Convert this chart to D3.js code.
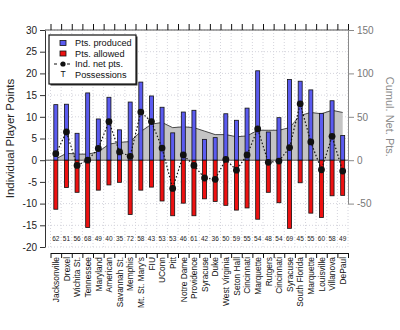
<!DOCTYPE html>
<html>
<head>
<meta charset="utf-8">
<script src="https://cdn.jsdelivr.net/npm/d3@7"></script>
<style>
  body { margin: 0; background: #fff; }
  svg { font-family: "Liberation Sans", Arial, sans-serif; }
</style>
</head>
<body>
<div id="chart-area"></div>
<script>
const teams = ["Jacksonville", "Drexel", "Wichita St.", "Tennessee", "Maryland", "American", "Savannah St.",
  "Memphis", "Mt. St. Mary's", "FIU", "UConn", "Pitt", "Notre Dame", "Providence", "Syracuse", "Duke",
  "West Virginia", "Seton Hall", "Cincinnati", "Marquette", "Rutgers", "Cincinnati", "Syracuse",
  "South Florida", "Marquette", "Louisville", "Villanova", "DePaul"]
const produced = [12.8, 12.9, 6.2, 15.5, 9.5, 14.5, 7.0, 13.4, 18.0, 14.8, 12.2, 6.3, 11.1, 11.5,
  4.8, 5.2, 10.7, 9.2, 12.0, 20.6, 6.5, 9.8, 18.6, 18.2, 16.2, 10.8, 13.7, 5.7]
const allowed = [11.3, 6.3, 7.4, 15.5, 6.9, 5.7, 5.1, 12.5, 6.9, 6.2, 9.4, 12.8, 9.9, 12.8,
  8.9, 9.5, 10.4, 11.5, 11.0, 13.6, 7.4, 9.8, 15.7, 5.2, 12.2, 13.2, 8.2, 8.1]
const netPts = [1.5, 6.5, -1.2, 0, 2.7, 8.9, 1.9, 0.9, 11.1, 8.9, 2.8, -6.5, 1.2, -1.2,
  -4.1, -4.4, 0.2, -2.3, 1.2, 7.2, -0.5, -0.2, 2.9, 13.0, 4.2, -2.2, 5.5, -2.5]
const cumulNet = [1.5, 8, 7, 7, 9.5, 18.5, 20.5, 21.5, 33, 41.5, 43.5, 37.5, 38.5, 37.5,
  33.5, 29.5, 29.5, 27, 28, 34.5, 34.5, 34.5, 37.5, 51.5, 55, 53.5, 57.5, 55]
const possessions = [62, 51, 56, 68, 49, 40, 35, 72, 58, 43, 53, 53, 46, 61,
  42, 36, 50, 59, 55, 54, 48, 54, 69, 45, 55, 60, 58, 49]
const leftTicks = [-20, -15, -10, -5, 0, 5, 10, 15, 20, 25, 30]
const rightTicks = [-50, 0, 50, 100, 150]

const W = 400, H = 330
const PLOT = { left: 45, right: 348, top: 30, bottom: 247 }
const BLUE = "#5b5bf0", RED = "#ee1111", GREY_AXIS = "#8a8a8a"

const svg = d3.select("#chart-area").append("svg")
  .attr("width", W).attr("height", H)

const n = teams.length
const x = d3.scaleLinear().domain([0, n]).range([50.5, 348])
const y = d3.scaleLinear().domain([-20, 30]).range([PLOT.bottom, PLOT.top])
const yR = d3.scaleLinear().domain([-100, 150]).range([PLOT.bottom, PLOT.top]) // right = left * 5
const idx = d3.range(n)

// grid
const grid = svg.append("g").attr("stroke", "#d4d4dc").attr("stroke-dasharray", "1,2").attr("stroke-width", 1)

// cumulative area
const area = d3.area()
  .x(i => x(i + 0.5))
  .y0(yR(0))
  .y1(i => yR(cumulNet[i]))
svg.append("path").datum(idx)
  .attr("d", area)
  .attr("fill", "#c4c4c4")
svg.append("path").datum(idx)
  .attr("d", d3.line().x(i => x(i + 0.5)).y(i => yR(cumulNet[i])))
  .attr("fill", "none").attr("stroke", "#222").attr("stroke-width", 0.8)

grid.selectAll("line.h").data(leftTicks).enter().append("line")
  .attr("x1", PLOT.left).attr("x2", PLOT.right)
  .attr("y1", d => y(d)).attr("y2", d => y(d))
grid.selectAll("line.v").data(d3.range(n + 1)).enter().append("line")
  .attr("x1", d => x(d)).attr("x2", d => x(d))
  .attr("y1", PLOT.top).attr("y2", PLOT.bottom)

// zero line
svg.append("line")
  .attr("x1", PLOT.left).attr("x2", PLOT.right)
  .attr("y1", y(0)).attr("y2", y(0))
  .attr("stroke", "#555").attr("stroke-width", 1)

// bars
const BW = 4
svg.selectAll("rect.prod").data(idx).enter().append("rect")
  .attr("x", i => x(i + 0.5) - BW / 2)
  .attr("y", i => y(produced[i]))
  .attr("width", BW)
  .attr("height", i => y(0) - y(produced[i]))
  .attr("fill", BLUE).attr("stroke", "#111").attr("stroke-width", 0.8)
svg.selectAll("rect.allow").data(idx).enter().append("rect")
  .attr("x", i => x(i + 0.5) - BW / 2)
  .attr("y", y(0))
  .attr("width", BW)
  .attr("height", i => y(-allowed[i]) - y(0))
  .attr("fill", RED).attr("stroke", "#111").attr("stroke-width", 0.8)

// net points
svg.append("path").datum(idx)
  .attr("d", d3.line().x(i => x(i + 0.5)).y(i => y(netPts[i])))
  .attr("fill", "none").attr("stroke", "#111").attr("stroke-width", 1.2)
  .attr("stroke-dasharray", "1.5,2")
svg.selectAll("circle.net").data(idx).enter().append("circle")
  .attr("cx", i => x(i + 0.5)).attr("cy", i => y(netPts[i]))
  .attr("r", 3.4).attr("fill", "#111")

// possessions
svg.selectAll("text.poss").data(idx).enter().append("text")
  .attr("x", i => x(i + 0.5)).attr("y", 240.5)
  .attr("text-anchor", "middle").attr("font-size", "6.5px").attr("fill", "#222")
  .text(i => possessions[i])

// left axis
const yAxis = svg.append("g")
  .attr("transform", `translate(${PLOT.left},0)`)
  .call(d3.axisLeft(y).tickValues(leftTicks).tickSize(5).tickSizeOuter(0).tickFormat(d => String(d)))
yAxis.selectAll("text").attr("font-size", "10px").attr("fill", "#222")
yAxis.selectAll("line, path").attr("stroke", "#333")

// right axis
const yRaxis = d3.scaleLinear().domain([-50, 150]).range([yR(-50), yR(150)])
const rAxis = svg.append("g")
  .attr("transform", `translate(${PLOT.right},0)`)
  .call(d3.axisRight(yRaxis).tickValues(rightTicks).tickSize(6).tickSizeOuter(0).tickFormat(d => String(d)))
rAxis.selectAll("text").attr("font-size", "10px").attr("fill", "#777")
rAxis.selectAll("line, path").attr("stroke", GREY_AXIS)

// top axis (category boundaries)
const tAxis = svg.append("g")
  .attr("transform", `translate(0,${PLOT.top})`)
  .call(d3.axisTop(x).tickValues(d3.range(n + 1)).tickSize(6).tickSizeOuter(0).tickFormat(""))
tAxis.select(".domain").attr("d", `M${PLOT.left},0H${PLOT.right}`).attr("stroke", "#555")
tAxis.selectAll(".tick line").attr("stroke", "#111")

// bottom axis
const bAxis = svg.append("g")
  .attr("transform", "translate(0,253)")
  .call(d3.axisBottom(x).tickValues(d3.range(n + 1)).tickSize(5).tickSizeOuter(0).tickFormat(""))
bAxis.selectAll("line, path").attr("stroke", "#111")
const bLabels = svg.append("g")
  .attr("transform", "translate(0,253)")
  .call(d3.axisBottom(x).tickValues(idx.map(i => i + 0.5)).tickSize(0).tickFormat(d => teams[Math.floor(d)]))
bLabels.select(".domain").remove()
bLabels.selectAll("text")
  .attr("font-size", "8.4px").attr("fill", "#111")
  .attr("text-anchor", "end")
  .attr("transform", "rotate(-90)")
  .attr("x", -4).attr("y", 0).attr("dy", "0.32em")

// axis titles
svg.append("text")
  .attr("transform", `translate(14,${(PLOT.top + PLOT.bottom) / 2}) rotate(-90)`)
  .attr("text-anchor", "middle").attr("font-size", "11.5px").attr("fill", "#222")
  .text("Individual Player Points")
svg.append("text")
  .attr("transform", `translate(386,${(yR(-50) + yR(150)) / 2}) rotate(90)`)
  .attr("text-anchor", "middle").attr("font-size", "11px").attr("fill", "#888")
  .text("Cumul. Net. Pts.")

// legend
const leg = svg.append("g").attr("transform", "translate(49,35)")
leg.append("rect").attr("x", 1.5).attr("y", 1.5).attr("width", 87).attr("height", 49).attr("fill", "#333")
leg.append("rect").attr("width", 87).attr("height", 49).attr("fill", "#fff").attr("stroke", "#111").attr("stroke-width", 1.2)
const legItems = ["Pts. produced", "Pts. allowed", "Ind. net pts.", "Possessions"]
const legRow = i => 8 + i * 10.5
leg.selectAll("text.lab").data(legItems).enter().append("text")
  .attr("x", 26).attr("y", (d, i) => legRow(i)).attr("dy", "0.35em")
  .attr("font-size", "9.2px").attr("fill", "#111")
  .text(d => d)
leg.append("rect").attr("x", 11).attr("y", legRow(0) - 2.5).attr("width", 6).attr("height", 5)
  .attr("fill", BLUE).attr("stroke", "#111").attr("stroke-width", 0.8)
leg.append("rect").attr("x", 11).attr("y", legRow(1) - 2.5).attr("width", 6).attr("height", 5)
  .attr("fill", RED).attr("stroke", "#111").attr("stroke-width", 0.8)
leg.append("line").attr("x1", 5).attr("x2", 22).attr("y1", legRow(2)).attr("y2", legRow(2))
  .attr("stroke", "#111").attr("stroke-width", 1.2).attr("stroke-dasharray", "3,3.5")
leg.append("circle").attr("cx", 14).attr("cy", legRow(2)).attr("r", 2.6).attr("fill", "#111")
leg.append("text").attr("x", 14).attr("y", legRow(3)).attr("dy", "0.35em")
  .attr("text-anchor", "middle").attr("font-size", "8.5px").attr("fill", "#111").text("T")
</script>
</body>
</html>
